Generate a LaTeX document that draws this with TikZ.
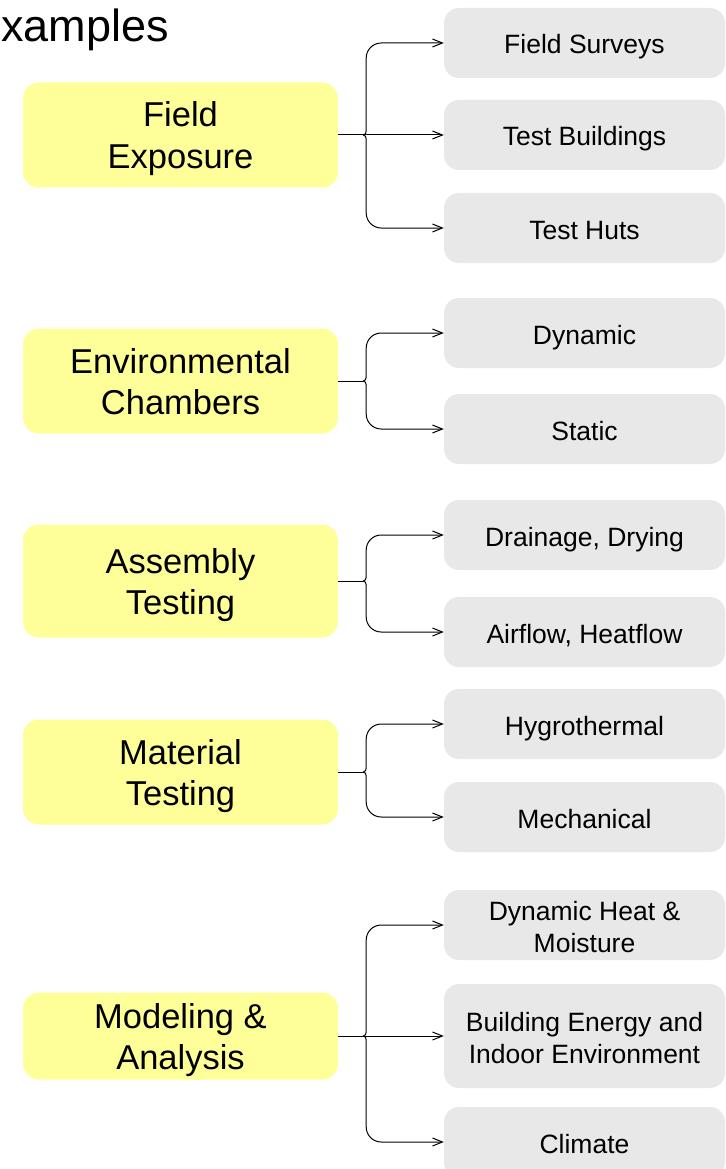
\documentclass[tikz,border=0pt]{standalone}
\usepackage{fontspec}
\setmainfont{Liberation Sans}
\usetikzlibrary{arrows.meta,calc}
\definecolor{ylw}{HTML}{FFFF99}
\definecolor{gry}{HTML}{E8E8E8}
\begin{document}
\begin{tikzpicture}[x=1pt,y=1pt,
  cat/.style={fill=ylw, rounded corners=16pt, minimum width=315pt, inner sep=0pt, align=center, font=\fontsize{34.5}{41}\selectfont, text=black,
    text height=73pt, text depth=7pt},
  leaf/.style={fill=gry, rounded corners=15pt, minimum width=281pt, minimum height=70pt, inner sep=0pt, align=center, font=\fontsize{26.5}{32}\selectfont, text=black},
  one/.style={text height=22pt, text depth=0pt},
  two/.style={text height=54pt, text depth=0pt},
  link/.style={draw=black, line width=1pt},
  arr/.style={link, -{Straight Barb[length=10pt,width=8pt,line width=1pt]}},
  ]
\useasboundingbox (0,0) rectangle (725,-1169);

\node[anchor=base west, inner sep=0pt, font=\fontsize{45}{54}\selectfont] (ttl) at (1,-42) {xamples};

% categories
\node[cat, minimum height=105pt] (fe) at (180.5,-135) {Field\\Exposure};
\node[cat, minimum height=105pt] (ec) at (180.5,-381) {Environmental\\Chambers};
\node[cat, minimum height=113pt] (at) at (180.5,-581) {Assembly\\Testing};
\node[cat, minimum height=105pt] (mt) at (180.5,-772) {Material\\Testing};
\node[cat, minimum height=87pt] (ma) at (180.5,-1036) {Modeling \&\\Analysis};

% leaves
\node[leaf, one] (fs) at (584.5,-43) {Field Surveys};
\node[leaf, one] (tb) at (584.5,-135) {Test Buildings};
\node[leaf, one] (th) at (584.5,-228) {Test Huts};
\node[leaf, one] (dy) at (584.5,-333) {Dynamic};
\node[leaf, one] (st) at (584.5,-429) {Static};
\node[leaf, one] (dd) at (584.5,-535) {Drainage, Drying};
\node[leaf, one] (ah) at (584.5,-632) {Airflow, Heatflow};
\node[leaf, one] (hy) at (584.5,-724) {Hygrothermal};
\node[leaf, one] (me) at (584.5,-817) {Mechanical};
\node[leaf, two] (dh) at (584.5,-925) {Dynamic Heat \&\\Moisture};
\node[leaf, two, minimum height=104pt] (be) at (584.5,-1036) {Building Energy and\\Indoor Environment};
\node[leaf, one] (cl) at (584.5,-1142) {Climate};

% junctions
\coordinate (jfe) at ($(fe.east)+(25,0)$);
\coordinate (jec) at ($(ec.east)+(25,0)$);
\coordinate (jat) at ($(at.east)+(25,0)$);
\coordinate (jmt) at ($(mt.east)+(25,0)$);
\coordinate (jma) at ($(ma.east)+(25,0)$);

% connectors
\draw[link] (fe.east) -- (jfe);
\draw[arr] (jfe) to[out=0,in=-90] ($(jfe)+(3,4)$) [rounded corners=15pt] |- (fs.west);
\draw[arr] (jfe) -- (tb.west);
\draw[arr] (jfe) to[out=0,in=90] ($(jfe)+(3,-4)$) [rounded corners=15pt] |- (th.west);

\draw[link] (ec.east) -- (jec);
\draw[arr] (jec) to[out=0,in=-90] ($(jec)+(3,4)$) [rounded corners=15pt] |- (dy.west);
\draw[arr] (jec) to[out=0,in=90] ($(jec)+(3,-4)$) [rounded corners=15pt] |- (st.west);

\draw[link] (at.east) -- (jat);
\draw[arr] (jat) to[out=0,in=-90] ($(jat)+(3,4)$) [rounded corners=15pt] |- (dd.west);
\draw[arr] (jat) to[out=0,in=90] ($(jat)+(3,-4)$) [rounded corners=15pt] |- (ah.west);

\draw[link] (mt.east) -- (jmt);
\draw[arr] (jmt) to[out=0,in=-90] ($(jmt)+(3,4)$) [rounded corners=15pt] |- (hy.west);
\draw[arr] (jmt) to[out=0,in=90] ($(jmt)+(3,-4)$) [rounded corners=15pt] |- (me.west);

\draw[link] (ma.east) -- (jma);
\draw[arr] (jma) to[out=0,in=-90] ($(jma)+(3,4)$) [rounded corners=15pt] |- (dh.west);
\draw[arr] (jma) -- (be.west);
\draw[arr] (jma) to[out=0,in=90] ($(jma)+(3,-4)$) [rounded corners=15pt] |- (cl.west);
\end{tikzpicture}
\end{document}
